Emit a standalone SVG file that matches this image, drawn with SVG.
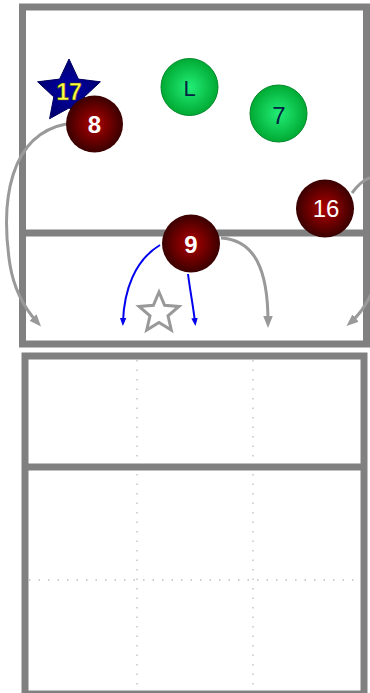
<svg xmlns="http://www.w3.org/2000/svg" width="370" height="693" viewBox="0 0 370 693">
<style>
.court{fill:none;stroke:#808080;stroke-width:7}
.dot{fill:none;stroke:#c0c0c0;stroke-width:1.4;stroke-dasharray:1.5 8}
.run{fill:none;stroke:#999;stroke-width:3}
.pass{fill:none;stroke:#0000ee;stroke-width:2}
.lbl{font-family:"Liberation Sans",Arial,sans-serif;text-anchor:middle}
.red{fill:url(#gRed)}
.green{fill:url(#gGreen);stroke:#00882a;stroke-width:1}
</style>
<defs>
<radialGradient id="gRed" cx="0.5" cy="0.5" r="0.5">
<stop offset="0" stop-color="#b00000"/>
<stop offset="1" stop-color="#3a0000"/>
</radialGradient>
<radialGradient id="gGreen" cx="0.5" cy="0.5" r="0.5">
<stop offset="0" stop-color="#22ee77"/>
<stop offset="1" stop-color="#00aa33"/>
</radialGradient>
<radialGradient id="gNavy" cx="0.5" cy="0.5" r="0.5">
<stop offset="0" stop-color="#0000aa"/>
<stop offset="1" stop-color="#000070"/>
</radialGradient>
<marker id="mGray" viewBox="0 0 10 10" refX="5" refY="5" markerWidth="4" markerHeight="4" orient="auto">
<path d="M0,1 L10,5 L0,9 Z" fill="#999"/>
</marker>
<marker id="mBlue" viewBox="0 0 10 10" refX="5" refY="5" markerWidth="4" markerHeight="4" orient="auto">
<path d="M0,1 L10,5 L0,9 Z" fill="#0000ee"/>
</marker>
</defs>
<rect width="370" height="693" fill="#fff"/>
<g id="court-top">
<rect class="court" x="22.5" y="7" width="344" height="337"/>
<line class="court" x1="22.5" y1="233" x2="366.5" y2="233"/>
</g>
<g id="court-bottom">
<line class="dot" x1="137" y1="360" x2="137" y2="693"/>
<line class="dot" x1="253" y1="360" x2="253" y2="693"/>
<line class="dot" x1="29" y1="580" x2="368" y2="580"/>
<rect class="court" x="25" y="356" width="339" height="338" stroke-width="8"/>
<line class="court" x1="25" y1="467" x2="364" y2="467" stroke-width="8"/>
</g>
<g id="connectors">
<path class="run" d="M66,124 C10,135 0,200 10,265 C15,295 28,312 37,322" marker-end="url(#mGray)"/>
<path class="run" d="M221,238 C255,240 268,270 268,322" marker-end="url(#mGray)"/>
<path class="run" d="M352,193 C400,130 400,280 351,322" marker-end="url(#mGray)"/>
<path class="pass" d="M160,245 C135,260 124,290 123,322" marker-end="url(#mBlue)"/>
<path class="pass" d="M188,274 C190,290 193,305 195,322" marker-end="url(#mBlue)"/>
</g>
<g id="marker-star">
<polygon points="159,292 164.6,305.3 179,306.5 168,315.9 171.3,330 159,322.5 146.7,330 150,315.9 139,306.5 153.4,305.3" fill="#fff" stroke="#999" stroke-width="3" stroke-linejoin="miter"/>
</g>
<g id="p17">
<polygon points="69,59 78.4,79.1 100.4,81.8 84.2,96.9 88.4,118.7 69,108 49.6,118.7 53.8,96.9 37.6,81.8 59.6,79.1" fill="url(#gNavy)" stroke="#000060" stroke-width="1"/>
<text class="lbl" x="69" y="100" font-size="23" font-weight="bold" fill="#ffff44" stroke="#444400" stroke-width="0.5">17</text>
</g>
<g id="p8">
<circle class="red" cx="94.5" cy="124" r="28.5"/>
<text class="lbl" x="94.5" y="133" font-size="24" font-weight="bold" fill="#fff">8</text>
</g>
<g id="pL">
<circle class="green" cx="189.5" cy="87" r="28.5"/>
<text class="lbl" x="189.5" y="96" font-size="22" fill="#002244">L</text>
</g>
<g id="p7">
<circle class="green" cx="278.5" cy="113.5" r="28.5"/>
<text class="lbl" x="279" y="124" font-size="24" fill="#002244">7</text>
</g>
<g id="p16">
<circle class="red" cx="325" cy="208.5" r="29"/>
<text class="lbl" x="326" y="217" font-size="24" fill="#fff">16</text>
</g>
<g id="p9">
<circle class="red" cx="191" cy="243.5" r="29"/>
<text class="lbl" x="191" y="253" font-size="24" font-weight="bold" fill="#fff">9</text>
</g>
</svg>
